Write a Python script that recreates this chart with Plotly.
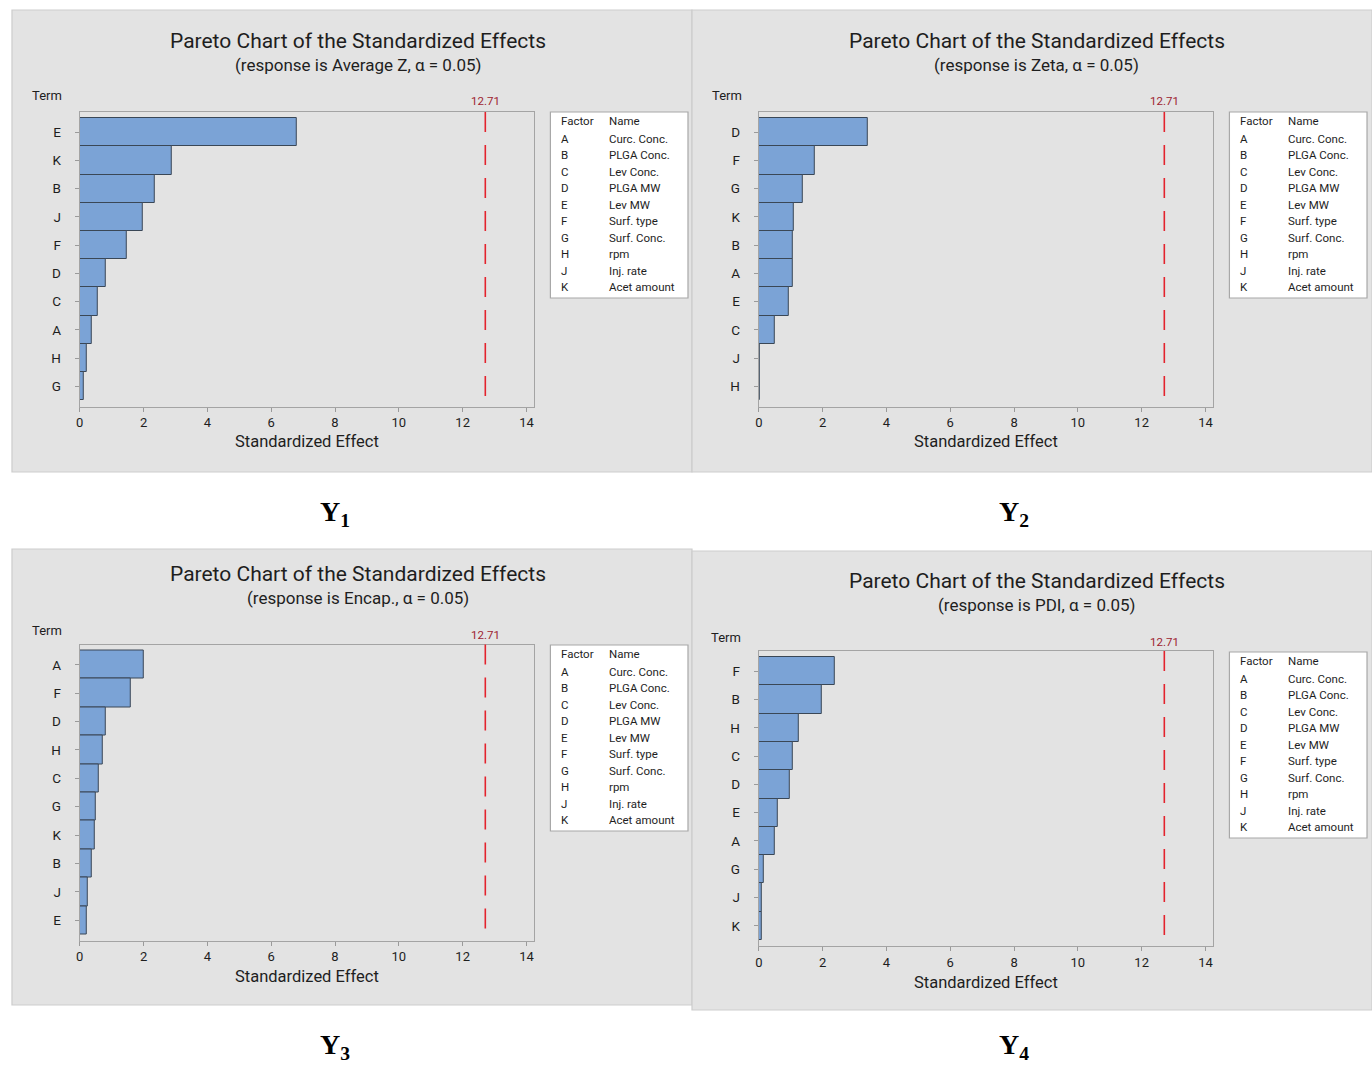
import plotly.graph_objects as go

# ---- data -------------------------------------------------------------
factor_codes = ["A", "B", "C", "D", "E", "F", "G", "H", "J", "K"]
factor_names = ["Curc. Conc.", "PLGA Conc.", "Lev Conc.", "PLGA MW", "Lev MW",
                "Surf. type", "Surf. Conc.", "rpm", "Inj. rate", "Acet amount"]

critical_value = 12.71
x_ticks = [0, 2, 4, 6, 8, 10, 12, 14]

terms_y1 = ["E", "K", "B", "J", "F", "D", "C", "A", "H", "G"]
effects_y1 = [6.81, 2.87, 2.34, 1.97, 1.48, 0.81, 0.55, 0.38, 0.21, 0.12]

terms_y2 = ["D", "F", "G", "K", "B", "A", "E", "C", "J", "H"]
effects_y2 = [3.42, 1.77, 1.38, 1.11, 1.06, 1.05, 0.93, 0.50, 0.04, 0.03]

terms_y3 = ["A", "F", "D", "H", "C", "G", "K", "B", "J", "E"]
effects_y3 = [2.00, 1.61, 0.81, 0.73, 0.60, 0.51, 0.46, 0.38, 0.25, 0.21]

terms_y4 = ["F", "B", "H", "C", "D", "E", "A", "G", "J", "K"]
effects_y4 = [2.38, 1.98, 1.24, 1.07, 0.98, 0.59, 0.50, 0.15, 0.09, 0.08]

responses = ["Average Z", "Zeta", "Encap.", "PDI"]
panel_labels = ["Y<sub>1</sub>", "Y<sub>2</sub>", "Y<sub>3</sub>", "Y<sub>4</sub>"]

# ---- page geometry (pixels) -------------------------------------------
W, H = 1372, 1066
FONT = "Roboto"
TEXT = "#1e1e1e"


def px(x):
    return x / W


def py(y):
    return 1 - y / H


def label(x, y, text, font, xanchor="center", **kw):
    """Text placed at a pixel position on the page."""
    return dict(x=px(x), y=py(y), xref="paper", yref="paper", text=text,
                showarrow=False, xanchor=xanchor, yanchor="middle", font=font, **kw)


panels = [
    dict(bg=(8, 10, 690, 472), plot=(76, 112, 532, 406.5), title_x=355, title_y=41,
         sub_y=65, term=(43, 96), crit_y=101, xlab_y=442, legend=(548, 112, 686, 298),
         lab=(332, 513)),
    dict(bg=(690, 10, 1372, 472), plot=(757, 112, 1213, 406.5), title_x=1036, title_y=41,
         sub_y=65, term=(725, 96), crit_y=101, xlab_y=442, legend=(1229, 112, 1367, 298),
         lab=(1013, 513)),
    dict(bg=(8, 549, 690, 1005), plot=(76, 644.5, 532, 940.5), title_x=355, title_y=574,
         sub_y=598, term=(43, 630), crit_y=635, xlab_y=976, legend=(548, 645, 686, 831),
         lab=(332, 1046)),
    dict(bg=(690, 551, 1372, 1010), plot=(757, 651, 1213, 946), title_x=1036, title_y=581,
         sub_y=605, term=(724, 637), crit_y=642, xlab_y=982, legend=(1229, 652, 1367, 838),
         lab=(1013, 1046)),
]

series = [(terms_y1, effects_y1), (terms_y2, effects_y2),
          (terms_y3, effects_y3), (terms_y4, effects_y4)]

fig = go.Figure()
shapes = []
annotations = []
axes = {}

# panel backgrounds first so they sit under everything else
for p in panels:
    x0, y0, x1, y1 = p["bg"]
    shapes.append(dict(type="rect", xref="paper", yref="paper", layer="below",
                       x0=px(x0), x1=px(x1), y0=py(y1), y1=py(y0),
                       fillcolor="#e3e3e3", line=dict(color="#cdcdcd", width=1.2)))

for i, (p, (terms, effects)) in enumerate(zip(panels, series)):
    n = i + 1
    xa = "x" if n == 1 else f"x{n}"
    ya = "y" if n == 1 else f"y{n}"
    xkey = "xaxis" if n == 1 else f"xaxis{n}"
    ykey = "yaxis" if n == 1 else f"yaxis{n}"

    fig.add_trace(go.Bar(
        x=effects, y=terms, orientation="h", xaxis=xa, yaxis=ya,
        marker=dict(color="#7ba3d6", line=dict(color="#3a4756", width=1)),
        hoverinfo="x+y",
    ))

    l, t, r, b = p["plot"]
    axes[xkey] = dict(
        domain=[px(l), px(r)], anchor=ya, range=[0, 14.25],
        tickmode="array", tickvals=x_ticks, ticktext=[str(v) for v in x_ticks],
        ticks="outside", ticklen=4, tickcolor="#9a9a9a",
        showline=True, mirror=True, linecolor="#a4a4a4", linewidth=1.2,
        showgrid=False, zeroline=False,
        tickfont=dict(family=FONT, size=13, color=TEXT),
    )
    axes[ykey] = dict(
        domain=[py(b), py(t)], anchor=xa, type="category",
        categoryorder="array", categoryarray=terms,
        range=[len(terms) - 0.285, -0.715],
        ticks="outside", ticklen=4, tickcolor="#9a9a9a", ticklabelstandoff=11,
        showline=True, mirror=True, linecolor="#a4a4a4", linewidth=1.2,
        showgrid=False, zeroline=False,
        tickfont=dict(family=FONT, size=13.5, color=TEXT),
    )

    # critical value reference line
    shapes.append(dict(type="line", xref=xa, yref=f"{ya} domain",
                       x0=critical_value, x1=critical_value, y0=1.0, y1=0.02,
                       line=dict(color="#e3232d", width=1.6, dash="20px,13px")))
    annotations.append(dict(x=critical_value, xref=xa, y=py(p["crit_y"]), yref="paper",
                            text=f"{critical_value:.2f}", showarrow=False,
                            xanchor="center", yanchor="middle",
                            font=dict(family=FONT, size=11.5, color="#9e2430")))

    # titles
    annotations.append(label(p["title_x"], p["title_y"],
                             "Pareto Chart of the Standardized Effects",
                             dict(family=FONT, size=21, color=TEXT)))
    annotations.append(label(p["title_x"], p["sub_y"],
                             f"(response is {responses[i]}, \u03b1 = 0.05)",
                             dict(family=FONT, size=17, color=TEXT)))
    annotations.append(label(p["term"][0], p["term"][1], "Term",
                             dict(family=FONT, size=13, color=TEXT)))
    annotations.append(label((l + r) / 2, p["xlab_y"], "Standardized Effect",
                             dict(family=FONT, size=16.5, color=TEXT)))

    # factor key box
    lx0, ly0, lx1, ly1 = p["legend"]
    shapes.append(dict(type="rect", xref="paper", yref="paper", layer="below",
                       x0=px(lx0), x1=px(lx1), y0=py(ly1), y1=py(ly0),
                       fillcolor="white", line=dict(color="#a8a8a8", width=1.2)))
    key_font = dict(family=FONT, size=11.5, color=TEXT)
    annotations.append(label(lx0 + 9, ly0 + 9, "Factor", key_font, xanchor="left"))
    annotations.append(label(lx0 + 57, ly0 + 9, "Name", key_font, xanchor="left"))
    for k, (code, name) in enumerate(zip(factor_codes, factor_names)):
        yy = ly0 + 27 + k * 16.45
        annotations.append(label(lx0 + 9, yy, code, key_font, xanchor="left"))
        annotations.append(label(lx0 + 57, yy, name, key_font, xanchor="left"))

    # response label under each chart
    annotations.append(label(p["lab"][0], p["lab"][1], f"<b>{panel_labels[i]}</b>",
                             dict(family="Liberation Serif", size=28, color="#000000")))

fig.update_layout(
    width=W, height=H, margin=dict(l=0, r=0, t=0, b=0),
    paper_bgcolor="white", plot_bgcolor="white",
    showlegend=False, bargap=0,
    shapes=shapes, annotations=annotations,
    **axes,
)

fig.write_html("out.html")
